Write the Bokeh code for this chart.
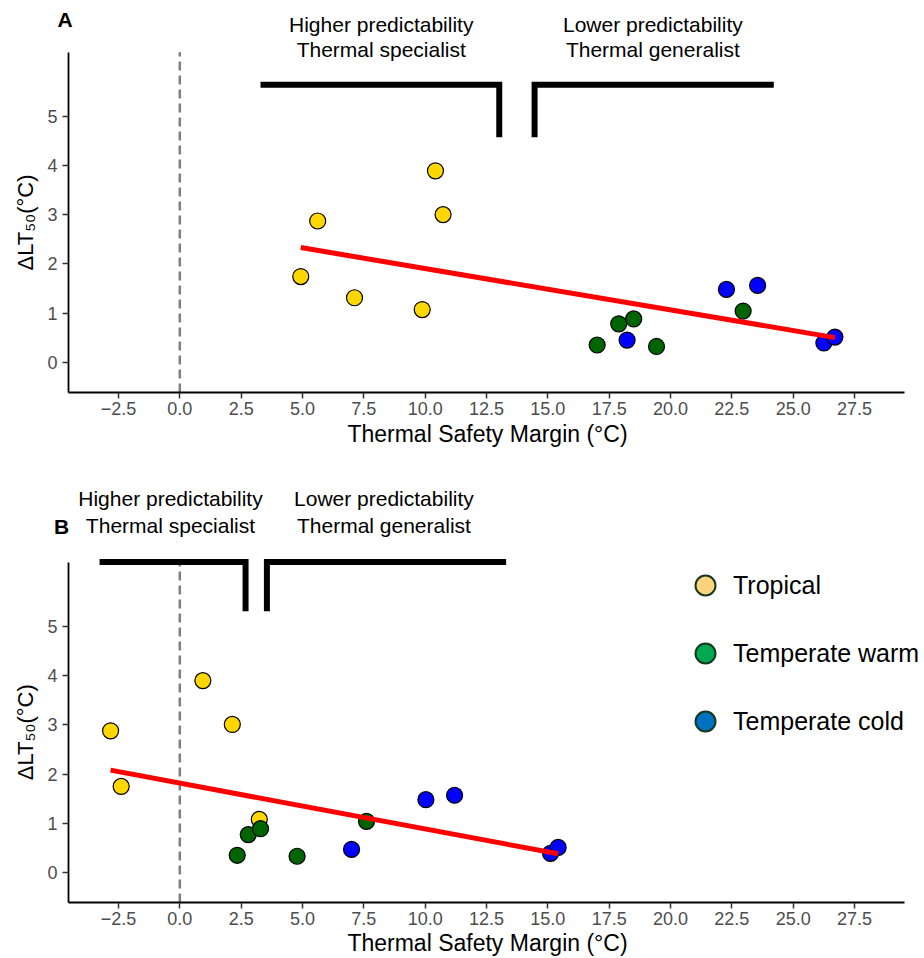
import math
from bokeh.plotting import figure
from bokeh.models import Label, Legend, LegendItem, Range1d, FixedTicker
from bokeh.layouts import column
from bokeh.embed import file_html
from bokeh.resources import INLINE

# ---------------- data ----------------
group_names = ["Tropical", "Temperate warm", "Temperate cold"]
point_colors = ["#FFD700", "#006400", "#0000FF"]
legend_colors = ["#FDD47C", "#00A850", "#0070C0"]

x_ticks = [-2.5, 0.0, 2.5, 5.0, 7.5, 10.0, 12.5, 15.0, 17.5, 20.0, 22.5, 25.0, 27.5]
x_tick_labels = ["\u22122.5", "0.0", "2.5", "5.0", "7.5", "10.0", "12.5", "15.0",
                 "17.5", "20.0", "22.5", "25.0", "27.5"]
y_ticks = [0, 1, 2, 3, 4, 5]
y_tick_labels = ["0", "1", "2", "3", "4", "5"]

# Panel A
a_trop_x = [4.93, 5.62, 7.12, 9.88, 10.42, 10.73]
a_trop_y = [1.74, 2.87, 1.31, 1.07, 3.89, 3.00]
a_warm_x = [17.01, 17.89, 18.50, 19.43, 22.96]
a_warm_y = [0.35, 0.78, 0.88, 0.32, 1.04]
a_cold_x = [18.23, 22.28, 23.55, 26.25, 26.70]
a_cold_y = [0.45, 1.48, 1.56, 0.39, 0.51]
a_fit_x = [4.93, 26.70]
a_fit_y = [2.33, 0.50]
a_brk_left_x = [3.29, 13.02, 13.02]
a_brk_left_y = [5.638, 5.638, 4.573]
a_brk_right_x = [14.46, 14.46, 24.21]
a_brk_right_y = [4.573, 5.638, 5.638]
a_vline_y = [-0.616, 6.30]

# Panel B
b_trop_x = [-2.82, -2.39, 0.94, 2.14, 3.24]
b_trop_y = [2.88, 1.75, 3.90, 3.01, 1.08]
b_warm_x = [2.34, 2.79, 3.29, 4.78, 7.61]
b_warm_y = [0.35, 0.77, 0.89, 0.33, 1.04]
b_cold_x = [7.00, 10.03, 11.20, 15.11, 15.42]
b_cold_y = [0.47, 1.48, 1.57, 0.39, 0.51]
b_fit_x = [-2.82, 15.42]
b_fit_y = [2.08, 0.38]
b_brk_left_x = [-3.27, 2.68, 2.68]
b_brk_left_y = [6.31, 6.31, 5.31]
b_brk_right_x = [3.55, 3.55, 13.30]
b_brk_right_y = [5.31, 6.31, 6.31]
b_vline_y = [-0.610, 6.31]
vline_x = [0.0, 0.0]

txt_high = ["Higher predictability", "Thermal specialist"]
txt_low = ["Lower predictability", "Thermal generalist"]
x_title = "Thermal Safety Margin (\u00b0C)"
y_title = "\u0394LT\u2085\u2080(\u00b0C)"

# ---------------- layout constants ----------------
FONT = "Liberation Sans"
W = 924
XR = (-7.308, 30.352)
X_AXIS_START = -4.536
X_BOUNDS = (X_AXIS_START, 29.54)
PX_X = 24.535   # pixels per x unit
PX_Y = 49.2     # pixels per y unit
BASE_SHIFT = 0.38  # em correction for the renderer's alphabetic baseline


def up(y, fs):
    return y + BASE_SHIFT * fs / PX_Y


def make_fig(height, y_start, y_end, y_bounds):
    p = figure(width=W, height=height,
               x_range=Range1d(*XR), y_range=Range1d(y_start, y_end),
               output_backend="svg", toolbar_location=None,
               min_border_left=0, min_border_right=0, min_border_top=0,
               min_border_bottom=0)
    p.outline_line_color = None
    p.grid.visible = False
    p.background_fill_color = "white"
    p.border_fill_color = "white"
    for ax in (p.xaxis[0], p.yaxis[0]):
        ax.axis_line_color = "black"
        ax.axis_line_width = 1.8
        ax.major_tick_line_color = "#333333"
        ax.major_tick_line_width = 1.5
        ax.major_tick_out = 6
        ax.major_tick_in = 0
        ax.minor_tick_line_color = None
        ax.major_label_text_font = FONT
        ax.major_label_text_font_size = "18px"
        ax.major_label_text_color = "#4D4D4D"
    xa = p.xaxis[0]
    xa.ticker = FixedTicker(ticks=x_ticks)
    xa.major_label_overrides = {t: l for t, l in zip(x_ticks, x_tick_labels)}
    xa.bounds = X_BOUNDS
    xa.fixed_location = y_bounds[0]
    xa.major_label_standoff = 3
    ya = p.yaxis[0]
    ya.ticker = FixedTicker(ticks=y_ticks)
    ya.major_label_overrides = {t: l for t, l in zip(y_ticks, y_tick_labels)}
    ya.bounds = y_bounds
    ya.fixed_location = X_AXIS_START
    ya.major_label_standoff = 5
    return p


def draw_panel(p, trop, warm, cold, fit, brk_l, brk_r, vline_y,
               txt_pos, title_base_y, ylab_y, letter, letter_pos):
    # dashed zero line
    p.line(vline_x, vline_y, line_color="#7F7F7F", line_width=2.5, line_dash="9 5")
    # points
    for (xs, ys), col in zip((trop, warm, cold), point_colors):
        p.scatter(xs, ys, size=16, fill_color=col, line_color="black", line_width=1.2)
    # fit line
    p.line(fit[0], fit[1], line_color="#FF0000", line_width=5, line_cap="butt")
    # brackets
    for bx, by in (brk_l, brk_r):
        p.line(bx, by, line_color="black", line_width=6, line_join="miter", line_cap="butt")
    # bracket texts
    (lx, rx, y1, y2) = txt_pos
    for cx, lines in ((lx, txt_high), (rx, txt_low)):
        for yy, t in zip((y1, y2), lines):
            p.add_layout(Label(x=cx, y=up(yy, 21), text=t, text_align="center",
                               text_baseline="alphabetic", text_font=FONT,
                               text_font_size="21px", text_color="black"))
    # axis titles
    p.add_layout(Label(x=12.54, y=up(title_base_y, 23), text=x_title, text_align="center",
                       text_baseline="alphabetic", text_font=FONT,
                       text_font_size="23px", text_color="black"))
    p.add_layout(Label(x=-5.96 - BASE_SHIFT * 22 / PX_X, y=ylab_y, text=y_title,
                       text_align="center", text_baseline="alphabetic", text_font=FONT,
                       angle=math.pi / 2, text_font_size="22px", text_color="black"))
    # panel letter
    p.add_layout(Label(x=letter_pos[0], y=up(letter_pos[1], 21), text=letter,
                       text_align="center", text_baseline="alphabetic", text_font=FONT,
                       text_font_style="bold", text_font_size="21px", text_color="black"))


# Panel A (canvas rows 0..454)
pa = make_fig(454, -1.876, 7.352, (-0.616, 6.30))
draw_panel(pa, (a_trop_x, a_trop_y), (a_warm_x, a_warm_y), (a_cold_x, a_cold_y),
           (a_fit_x, a_fit_y), (a_brk_left_x, a_brk_left_y), (a_brk_right_x, a_brk_right_y),
           a_vline_y, (8.21, 19.28, 6.707, 6.199), -1.632, 2.84, "A", (-4.68, 6.809))

# Panel B (canvas rows 454..958)
pb = make_fig(504, -1.748, 8.496, (-0.610, 6.31))
draw_panel(pb, (b_trop_x, b_trop_y), (b_warm_x, b_warm_y), (b_cold_x, b_cold_y),
           (b_fit_x, b_fit_y), (b_brk_left_x, b_brk_left_y), (b_brk_right_x, b_brk_right_y),
           b_vline_y, (-0.38, 8.32, 7.439, 6.896), -1.62, 2.85, "B", (-4.82, 6.870))

# legend (proxy renderers with no visible points)
items = []
for name, col in zip(group_names, legend_colors):
    r = pb.scatter(x=[float("nan")], y=[float("nan")], size=20, fill_color=col,
                   line_color="#17381F", line_width=2)
    items.append(LegendItem(label=name, renderers=[r]))
legend = Legend(items=items, location=(680, 212), orientation="vertical",
                glyph_width=50, glyph_height=50, spacing=18, padding=0, margin=0,
                label_standoff=3, label_text_font=FONT, label_text_font_size="25px",
                label_text_color="black", border_line_color=None,
                background_fill_alpha=0)
pb.add_layout(legend)

layout = column(pa, pb, spacing=0)
open("out.html", "w").write(file_html(layout, INLINE))
